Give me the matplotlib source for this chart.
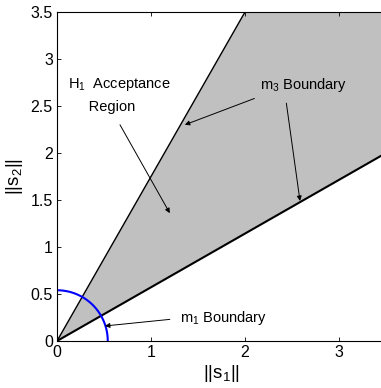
import numpy as np
import matplotlib
matplotlib.use('Agg')
import matplotlib.pyplot as plt

plt.rcParams['font.family'] = ['Liberation Sans', 'DejaVu Sans']
plt.rcParams['mathtext.fontset'] = 'custom'
plt.rcParams['mathtext.rm'] = 'Liberation Sans'
plt.rcParams['mathtext.it'] = 'Liberation Sans'

# limites e pendentes das fronteiras
xlim = [0, 3.5]
ylim = [0, 3.5]
slope_upper = 1.75
slope_lower = 1 / 1.75
m1_radius = 0.54

xticks = [0, 1, 2, 3]
yticks = [0, 0.5, 1, 1.5, 2, 2.5, 3, 3.5]
ytick_labels = ['0', '0.5', '1', '1.5', '2', '2.5', '3', '3.5']

W, H = 381, 388
fig = plt.figure(figsize=(W / 100, H / 100), dpi=100)
ax = fig.add_axes([57 / W, 1 - 341 / H, (386 - 57) / W, (341 - 12) / H])

# regiao de aceitacao (cinza)
x = np.array([0, xlim[1]])
ax.fill_between(x, slope_lower * x, slope_upper * x, color='#c0c0c0', lw=0)
ax.plot(x, slope_upper * x, color='black', lw=1.0)
ax.plot(x, slope_lower * x, color='black', lw=1.5)

# fronteira m1 (arco azul)
t = np.linspace(0, np.pi / 2, 200)
ax.plot(m1_radius * np.cos(t), m1_radius * np.sin(t), color='blue', lw=1.5)

arrow = dict(arrowstyle='-|>', color='black', lw=0.7, mutation_scale=7,
             shrinkA=0, shrinkB=0)
tsize = 10.5

ax.text(0.12, 2.62, 'H$_1$  Acceptance\n     Region', fontsize=tsize,
        va='center', ha='left', linespacing=1.6)
ax.annotate('', xy=(1.2, 1.36), xytext=(0.67, 2.30), arrowprops=arrow)

ax.text(2.16, 2.72, 'm$_3$ Boundary', fontsize=tsize, va='center', ha='left')
ax.annotate('', xy=(1.36, 2.30), xytext=(2.10, 2.58), arrowprops=arrow)
ax.annotate('', xy=(2.585, 1.49), xytext=(2.44, 2.53), arrowprops=arrow)

ax.text(1.31, 0.245, 'm$_1$ Boundary', fontsize=tsize, va='center', ha='left')
ax.annotate('', xy=(0.51, 0.16), xytext=(1.2, 0.23), arrowprops=arrow)

ax.set_xlim(xlim)
ax.set_ylim(ylim)
ax.set_xticks(xticks)
ax.set_yticks(yticks)
ax.set_yticklabels(ytick_labels)
ax.tick_params(direction='in', length=3, labelsize=11.5, top=True, right=True,
               width=0.6, pad=3)
for s in ax.spines.values():
    s.set_linewidth(0.8)

ax.set_xlabel('||s$_1$||', fontsize=13.5, labelpad=2)
ax.set_ylabel('||s$_2$||', fontsize=13.5, labelpad=4)

fig.savefig('out.png', dpi=100)
